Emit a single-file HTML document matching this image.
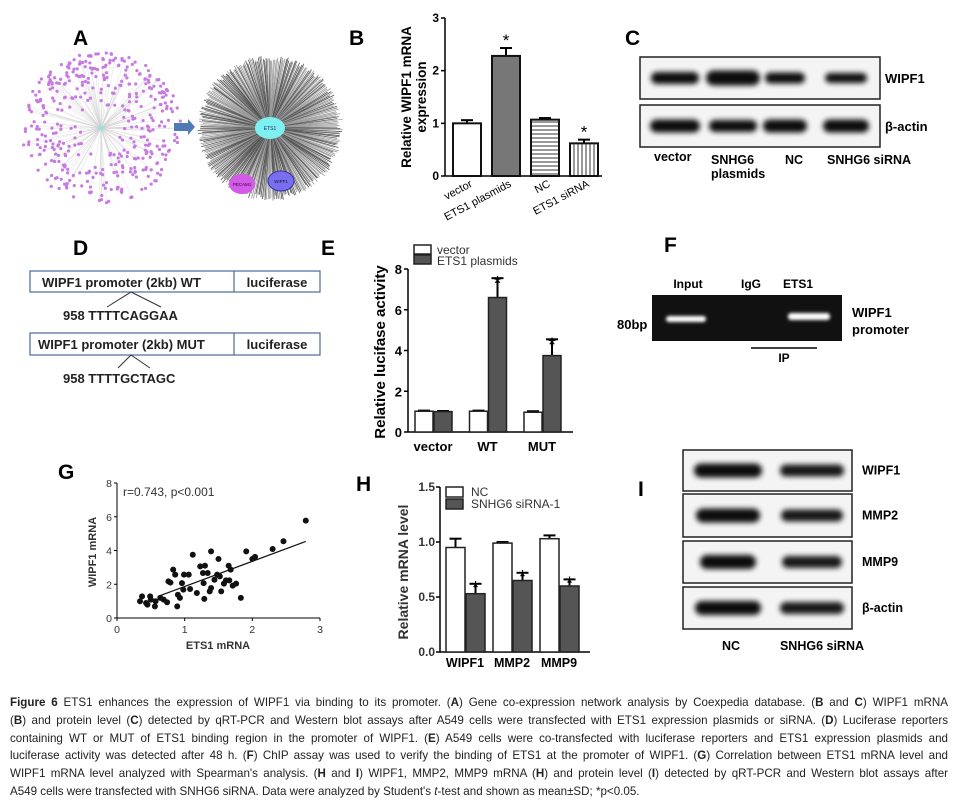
<!DOCTYPE html>
<html><head><meta charset="utf-8"><title>Figure 6</title>
<style>
html,body{margin:0;padding:0;background:#fff;}
body{width:959px;height:809px;position:relative;overflow:hidden;font-family:"Liberation Sans",sans-serif;}
svg{position:absolute;left:0;top:0;}
text{font-family:"Liberation Sans",sans-serif;}
.cap{position:absolute;left:10px;top:694px;width:938px;font-size:11.6px;line-height:17.8px;color:#222;}
.cap span{display:block;text-align:justify;text-align-last:justify;white-space:nowrap;}
.cap span.last{text-align-last:left;}
</style></head>
<body>
<svg id="fig" width="959" height="809" viewBox="0 0 959 809">
<defs>
<filter id="blur" x="-30%" y="-80%" width="160%" height="260%"><feGaussianBlur stdDeviation="2.6"/></filter>
<filter id="blur2" x="-20%" y="-80%" width="140%" height="260%"><feGaussianBlur stdDeviation="1.6"/></filter>
<pattern id="hstripe" width="4" height="4" patternUnits="userSpaceOnUse"><rect width="4" height="4" fill="#fff"/><line x1="0" y1="2" x2="4" y2="2" stroke="#333" stroke-width="1"/></pattern>
<pattern id="vstripe" width="4" height="4" patternUnits="userSpaceOnUse"><rect width="4" height="4" fill="#fff"/><line x1="2" y1="0" x2="2" y2="4" stroke="#333" stroke-width="1"/></pattern>
</defs>
<g font-weight="bold" font-size="21" fill="#000">
<text x="73" y="45">A</text>
<text x="349" y="45">B</text>
<text x="625" y="45">C</text>
<text x="73" y="255">D</text>
<text x="321" y="255">E</text>
<text x="664" y="252">F</text>
<text x="58" y="479">G</text>
<text x="356" y="491">H</text>
<text x="638" y="496">I</text>
</g>
<g id="panelA"></g>
<g id="panelB"></g>
<g id="panelC"></g>
<g id="panelD">
 <rect x="30" y="271" width="290" height="21" fill="#fff" stroke="#4a6a9a" stroke-width="1.2"/>
 <line x1="234" y1="271" x2="234" y2="292" stroke="#4a6a9a" stroke-width="1.2"/>
 <text x="42" y="287" font-size="13" font-weight="bold" fill="#222">WIPF1 promoter (2kb) WT</text>
 <text x="277" y="287" font-size="13" font-weight="bold" fill="#222" text-anchor="middle">luciferase</text>
 <line x1="131" y1="292" x2="107" y2="307" stroke="#333"/><line x1="131" y1="292" x2="161" y2="307" stroke="#333"/>
 <text x="63" y="320" font-size="13" font-weight="bold" fill="#222">958  TTTTCAGGAA</text>
 <rect x="30" y="333" width="290" height="22" fill="#fff" stroke="#4a6a9a" stroke-width="1.2"/>
 <line x1="234" y1="333" x2="234" y2="355" stroke="#4a6a9a" stroke-width="1.2"/>
 <text x="38" y="349" font-size="13" font-weight="bold" fill="#222">WIPF1 promoter (2kb) MUT</text>
 <text x="277" y="349" font-size="13" font-weight="bold" fill="#222" text-anchor="middle">luciferase</text>
 <line x1="131" y1="355" x2="118" y2="368" stroke="#333"/><line x1="131" y1="355" x2="150" y2="368" stroke="#333"/>
 <text x="63" y="383" font-size="13" font-weight="bold" fill="#222">958  TTTTGCTAGC</text>
</g>
<g id="panelE"></g>
<g id="panelF">
 <text x="688" y="288" font-size="12" font-weight="bold" text-anchor="middle">Input</text>
 <text x="751" y="288" font-size="12" font-weight="bold" text-anchor="middle">IgG</text>
 <text x="798" y="288" font-size="12" font-weight="bold" text-anchor="middle">ETS1</text>
 <rect x="652" y="295" width="190" height="46" fill="#111"/>
 <rect x="666" y="316" width="40" height="6" rx="3" fill="#fff" filter="url(#blur2)"/>
 <rect x="788" y="313" width="42" height="7" rx="3" fill="#fff" filter="url(#blur2)"/>
 <text x="617" y="329" font-size="13" font-weight="bold">80bp</text>
 <text x="852" y="317" font-size="13" font-weight="bold">WIPF1</text>
 <text x="852" y="334" font-size="13" font-weight="bold">promoter</text>
 <line x1="751" y1="348" x2="817" y2="348" stroke="#000" stroke-width="1.5"/>
 <text x="784" y="362" font-size="12" font-weight="bold" text-anchor="middle">IP</text>
</g>
<g id="panelG"></g>
<g id="panelH"></g>
<g id="panelI"></g>
</svg>
<div class="cap">
<span><b>Figure 6</b> ETS1 enhances the expression of WIPF1 via binding to its promoter. (<b>A</b>) Gene co-expression network analysis by Coexpedia database. (<b>B</b> and <b>C</b>) WIPF1 mRNA</span>
<span>(<b>B</b>) and protein level (<b>C</b>) detected by qRT-PCR and Western blot assays after A549 cells were transfected with ETS1 expression plasmids or siRNA. (<b>D</b>) Luciferase reporters</span>
<span>containing WT or MUT of ETS1 binding region in the promoter of WIPF1. (<b>E</b>) A549 cells were co-transfected with luciferase reporters and ETS1 expression plasmids and</span>
<span>luciferase activity was detected after 48 h. (<b>F</b>) ChIP assay was used to verify the binding of ETS1 at the promoter of WIPF1. (<b>G</b>) Correlation between ETS1 mRNA level and</span>
<span>WIPF1 mRNA level analyzed with Spearman's analysis. (<b>H</b> and <b>I</b>) WIPF1, MMP2, MMP9 mRNA (<b>H</b>) and protein level (<b>I</b>) detected by qRT-PCR and Western blot assays after</span>
<span class="last">A549 cells were transfected with SNHG6 siRNA. Data were analyzed by Student's <i>t</i>-test and shown as mean±SD; *p&lt;0.05.</span>
</div>
<script>
// ---------- Panel B data ----------
const bCategories = ["vector","ETS1 plasmids","NC","ETS1 siRNA"];
const bValues = [1.0, 2.28, 1.07, 0.62];
const bErrors = [0.06, 0.15, 0.03, 0.07];
const bSignif = [false, true, false, true];
const bTicks = [0,1,2,3];
// ---------- Panel E data ----------
const eCategories = ["vector","WT","MUT"];
const eVector = [1.02, 1.02, 0.97];
const eVectorErr = [0.03, 0.03, 0.05];
const ePlasmid = [1.0, 6.6, 3.75];
const ePlasmidErr = [0.03, 0.95, 0.8];
const eTicks = [0,2,4,6,8];
// ---------- Panel G data ----------
const gX = [0.34,0.37,0.43,0.45,0.49,0.50,0.56,0.57,0.64,0.69,0.74,0.76,0.79,0.83,0.86,0.89,0.90,0.93,0.96,0.98,0.99,1.06,1.08,1.12,1.18,1.23,1.27,1.28,1.29,1.30,1.34,1.37,1.39,1.39,1.44,1.48,1.50,1.52,1.54,1.58,1.61,1.65,1.66,1.68,1.71,1.76,1.83,1.91,2.00,2.04,2.30,2.46,2.79];
const gY = [0.99,1.28,0.89,0.79,1.28,1.09,0.69,0.99,1.19,1.09,0.93,2.17,2.10,2.87,2.57,0.69,1.38,1.19,2.07,1.68,2.57,2.57,1.72,3.75,1.48,3.06,2.67,2.07,1.13,3.10,2.67,1.58,3.95,1.78,2.27,2.57,3.50,2.47,1.58,2.04,2.23,3.10,2.23,2.87,1.92,2.04,1.19,3.95,3.50,3.62,4.09,4.55,5.77];
const gFitSlope = 1.49;
const gFitIntercept = 0.38;
const gFitRange = [0.6, 2.79];
const gXTicks = [0,1,2,3];
const gYTicks = [0,2,4,6,8];
// ---------- Panel H data ----------
const hCategories = ["WIPF1","MMP2","MMP9"];
const hNC = [0.95, 0.99, 1.03];
const hNCErr = [0.08, 0.01, 0.03];
const hSi = [0.53, 0.65, 0.60];
const hSiErr = [0.09, 0.07, 0.06];
const hTicks = ["0.0","0.5","1.0","1.5"];

const NS = "http://www.w3.org/2000/svg";
function mk(parent, tag, attrs, txt){
  const e = document.createElementNS(NS, tag);
  for (const k in attrs) e.setAttribute(k, attrs[k]);
  if (txt !== undefined) e.textContent = txt;
  parent.appendChild(e);
  return e;
}
function lin(d0,d1,r0,r1){ return v => r0 + (v-d0)/(d1-d0)*(r1-r0); }

// ---------- Panel A: network (decorative) ----------
(function(){
  const g = document.getElementById('panelA');
  let s = 7;
  function rnd(){ s = (s*16807) % 2147483647; return (s-1)/2147483646; }
  const cx=101, cy=128;
  const lines = mk(g,'g',{stroke:'#aaa','stroke-width':0.3,opacity:0.6});
  
  
  const dots = mk(g,'g',{fill:'#c77be0'});
  
  
  for (let i=0;i<420;i++){
    const a = rnd()*Math.PI*2, r = 18 + Math.sqrt(rnd())*58;
    const x = cx + Math.cos(a)*r*1.05, y = cy + Math.sin(a)*r;
    if (i%3===0) mk(lines,'line',{x1:cx,y1:cy,x2:x,y2:y});
    mk(dots,'circle',{cx:x,cy:y,r:1.6});
  }
  mk(g,'circle',{cx:cx,cy:cy,r:2,fill:'#7ee'});
  const ar = mk(g,'path',{d:'M174 123 L188 123 L188 119 L195 127 L188 135 L188 131 L174 131 Z',fill:'#4f7bb5'});
  
  
  const c2x=270, c2y=128, R=73;
  const star = mk(g,'g',{'stroke-width':0.8});
  
  
  for (let i=0;i<300;i++){
    const a = i/300*Math.PI*2 + rnd()*0.01;
    const rr = R*(0.92+rnd()*0.08);
    mk(star,'line',{x1:c2x,y1:c2y,x2:c2x+Math.cos(a)*rr,y2:c2y+Math.sin(a)*rr, stroke: rnd()<0.5?'#555':'#999'});
  }
  mk(g,'ellipse',{cx:c2x,cy:c2y,rx:15,ry:11,fill:'#7ef0f0'});
  mk(g,'text',{x:c2x,y:c2y+2,'font-size':5,'text-anchor':'middle',fill:'#226'},'ETS1');
  mk(g,'ellipse',{cx:242,cy:184,rx:13,ry:10,fill:'#d45be8'});
  mk(g,'text',{x:242,y:186,'font-size':4.5,'text-anchor':'middle',fill:'#303'},'PECAM1');
  mk(g,'ellipse',{cx:281,cy:181,rx:13,ry:10,fill:'#7a6ef0',stroke:'#3b33a0'});
  mk(g,'text',{x:281,y:183,'font-size':4.5,'text-anchor':'middle',fill:'#113'},'WIPF1');
})();

// ---------- Panel B ----------
(function(){
  const g = document.getElementById('panelB');
  const y = lin(0,3,176,18);
  const x0 = 445, step = 39, bw = 28;
  const fills = ['#fff','#777','url(#hstripe)','url(#vstripe)'];
  mk(g,'line',{x1:x0,y1:y(3),x2:x0,y2:y(0),stroke:'#000','stroke-width':1.5});
  mk(g,'line',{x1:x0,y1:y(0),x2:602,y2:y(0),stroke:'#000','stroke-width':1.5});
  bTicks.forEach(t=>{
    mk(g,'line',{x1:x0-4,y1:y(t),x2:x0,y2:y(t),stroke:'#000','stroke-width':1.5});
    const tl = mk(g,'text',{x:x0-6,y:y(t)+4,'font-size':12,'font-weight':'bold','text-anchor':'end'},String(t));
    
    
  });
  bCategories.forEach((c,i)=>{
    const bx = x0 + 8 + i*step;
    const v = bValues[i], e = bErrors[i];
    mk(g,'line',{x1:bx+bw/2,y1:y(v),x2:bx+bw/2,y2:y(v+e),stroke:'#000','stroke-width':2});
    mk(g,'line',{x1:bx+bw/2-6,y1:y(v+e),x2:bx+bw/2+6,y2:y(v+e),stroke:'#000','stroke-width':2});
    const r = mk(g,'rect',{x:bx,y:y(v),width:bw,height:y(0)-y(v),fill:fills[i],stroke:'#111','stroke-width':2});
    
    
    if (bSignif[i]) mk(g,'text',{x:bx+bw/2,y:y(v+e)-2,'font-size':17,'text-anchor':'middle'},'*');
    const lb = mk(g,'text',{x:bx+bw/2+6,y:y(0)+10,'font-size':11,'text-anchor':'end',transform:`rotate(-28 ${bx+bw/2+6} ${y(0)+10})`},c);
    
    
  });
  const yl = mk(g,'text',{transform:'translate(411 97) rotate(-90)','font-size':13.5,'font-weight':'bold','text-anchor':'middle'},'Relative WIPF1 mRNA');
  
  
  mk(g,'text',{transform:'translate(426 97) rotate(-90)','font-size':13.5,'font-weight':'bold','text-anchor':'middle'},'expression');
})();

// ---------- Blots ----------
function band(g,x,y,w,h,op){
  mk(g,'rect',{x:x,y:y,width:w,height:h,rx:h/2,fill:'#000',opacity:op,filter:'url(#blur)'});
}
(function(){
  const g = document.getElementById('panelC');
  const rows = [{y:57,label:'WIPF1',w:[48,54,40,42],h:[12,15,11,10]},{y:105,label:'β-actin',w:[50,48,44,46],h:[13,12,13,13]}];
  const lanes = [675,733,785,846];
  rows.forEach(r=>{
    const b = mk(g,'rect',{x:640,y:r.y,width:240,height:42,fill:'#f4f4f4',stroke:'#222','stroke-width':1.5});
    
    
    lanes.forEach((lx,i)=>band(g,lx-r.w[i]/2,r.y+21-r.h[i]/2,r.w[i],r.h[i],0.95));
    mk(g,'text',{x:885,y:r.y+26,'font-size':13,'font-weight':'bold'},r.label);
  });
  mk(g,'text',{x:654,y:161,'font-size':12.5,'font-weight':'bold'},'vector');
  mk(g,'text',{x:711,y:164,'font-size':12.5,'font-weight':'bold'},'SNHG6');
  mk(g,'text',{x:711,y:178,'font-size':12.5,'font-weight':'bold'},'plasmids');
  mk(g,'text',{x:785,y:164,'font-size':12.5,'font-weight':'bold'},'NC');
  mk(g,'text',{x:827,y:164,'font-size':12.5,'font-weight':'bold'},'SNHG6 siRNA');
})();
(function(){
  const g = document.getElementById('panelI');
  const rows = [{y:450,h:41,l:'WIPF1',w:[68,64]},{y:494,h:43,l:'MMP2',w:[64,62]},{y:541,h:42,l:'MMP9',w:[56,60]},{y:587,h:42,l:'β-actin',w:[66,64]}];
  rows.forEach(r=>{
    const b = mk(g,'rect',{x:683,y:r.y,width:169,height:r.h,fill:'#f4f4f4',stroke:'#222','stroke-width':1.5});
    
    
    band(g,728-r.w[0]/2,r.y+r.h/2-7,r.w[0],14,0.95);
    band(g,812-r.w[1]/2,r.y+r.h/2-6,r.w[1],12,0.9);
    mk(g,'text',{x:862,y:r.y+r.h/2+4,'font-size':12.5,'font-weight':'bold'},r.l);
  });
  mk(g,'text',{x:731,y:650,'font-size':12.5,'font-weight':'bold','text-anchor':'middle'},'NC');
  mk(g,'text',{x:822,y:650,'font-size':12.5,'font-weight':'bold','text-anchor':'middle'},'SNHG6 siRNA');
})();

// ---------- Panel E ----------
(function(){
  const g = document.getElementById('panelE');
  const y = lin(0,8,432,269);
  const x0=408;
  mk(g,'line',{x1:x0,y1:y(8),x2:x0,y2:y(0),stroke:'#000','stroke-width':1.5});
  mk(g,'line',{x1:x0,y1:y(0),x2:573,y2:y(0),stroke:'#000','stroke-width':1.5});
  eTicks.forEach(t=>{
    mk(g,'line',{x1:x0-4,y1:y(t),x2:x0,y2:y(t),stroke:'#000','stroke-width':1.5});
    mk(g,'text',{x:x0-6,y:y(t)+5,'font-size':13,'font-weight':'bold','text-anchor':'end'},String(t));
  });
  const bw=18;
  eCategories.forEach((c,i)=>{
    const gx = 415 + i*54.5;
    [[eVector,eVectorErr,'#fff'],[ePlasmid,ePlasmidErr,'#555']].forEach((s,j)=>{
      const bx = gx + j*(bw+1), v=s[0][i], e=s[1][i];
      mk(g,'line',{x1:bx+bw/2,y1:y(v),x2:bx+bw/2,y2:y(v+e),stroke:'#000','stroke-width':2});
      mk(g,'line',{x1:bx+bw/2-6,y1:y(v+e),x2:bx+bw/2+6,y2:y(v+e),stroke:'#000','stroke-width':2});
      const r = mk(g,'rect',{x:bx,y:y(v),width:bw,height:y(0)-y(v),fill:s[2],stroke:'#222','stroke-width':1.5});
      
      
      if (j===1 && v>2) mk(g,'text',{x:bx+bw/2,y:y(v+e)+12,'font-size':20,'text-anchor':'middle'},'*');
    });
    mk(g,'text',{x:gx+bw,y:451,'font-size':13,'font-weight':'bold','text-anchor':'middle'},c);
  });
  mk(g,'rect',{x:414,y:245,width:17,height:9,fill:'#fff',stroke:'#222','stroke-width':1.5});
  mk(g,'rect',{x:414,y:255,width:17,height:9,fill:'#555',stroke:'#222','stroke-width':1.5});
  const l1 = mk(g,'text',{x:437,y:254,'font-size':12,fill:'#333'},'vector');
  
  
  const l2 = mk(g,'text',{x:437,y:265,'font-size':12,fill:'#333'},'ETS1 plasmids');
  
  
  mk(g,'text',{transform:'translate(385 352) rotate(-90)','font-size':15,'font-weight':'bold','text-anchor':'middle'},'Relative lucifase activity');
})();

// ---------- Panel G ----------
(function(){
  const g = document.getElementById('panelG');
  const x = lin(0,3,117,320), y = lin(0,8,618,483);
  mk(g,'line',{x1:x(0),y1:y(8),x2:x(0),y2:y(0),stroke:'#000','stroke-width':1});
  mk(g,'line',{x1:x(0),y1:y(0),x2:x(3),y2:y(0),stroke:'#000','stroke-width':1});
  gYTicks.forEach(t=>{
    mk(g,'line',{x1:x(0)-3,y1:y(t),x2:x(0),y2:y(t),stroke:'#000'});
    mk(g,'text',{x:x(0)-5,y:y(t)+4,'font-size':10.5,'text-anchor':'end',fill:'#333'},String(t));
  });
  gXTicks.forEach(t=>{
    mk(g,'line',{x1:x(t),y1:y(0),x2:x(t),y2:y(0)+3,stroke:'#000'});
    mk(g,'text',{x:x(t),y:y(0)+15,'font-size':10.5,'text-anchor':'middle',fill:'#333'},String(t));
  });
  gX.forEach((v,i)=>{
    const p = mk(g,'circle',{cx:x(v),cy:y(gY[i]),r:3,fill:'#111'});
    
    
  });
  const fl = mk(g,'line',{x1:x(gFitRange[0]),y1:y(gFitIntercept+gFitSlope*gFitRange[0]),x2:x(gFitRange[1]),y2:y(gFitIntercept+gFitSlope*gFitRange[1]),stroke:'#111','stroke-width':1.2});
  
  
  mk(g,'text',{x:123,y:496,'font-size':12,fill:'#333'},'r=0.743, p<0.001');
  mk(g,'text',{x:218,y:649,'font-size':11,'font-weight':'bold','text-anchor':'middle',fill:'#333'},'ETS1 mRNA');
  mk(g,'text',{transform:'translate(96 552) rotate(-90)','font-size':11,'font-weight':'bold','text-anchor':'middle',fill:'#333'},'WIPF1 mRNA');
})();

// ---------- Panel H ----------
(function(){
  const g = document.getElementById('panelH');
  const y = lin(0,1.5,652,487);
  const x0=440;
  mk(g,'line',{x1:x0,y1:y(1.5),x2:x0,y2:y(0),stroke:'#000','stroke-width':1.5});
  mk(g,'line',{x1:x0,y1:y(0),x2:590,y2:y(0),stroke:'#000','stroke-width':1.5});
  hTicks.forEach(t=>{
    const v=parseFloat(t);
    mk(g,'line',{x1:x0-4,y1:y(v),x2:x0,y2:y(v),stroke:'#000','stroke-width':1.5});
    mk(g,'text',{x:x0-5,y:y(v)+4,'font-size':12,'font-weight':'bold','text-anchor':'end',fill:'#333'},t);
  });
  const bw=19;
  hCategories.forEach((c,i)=>{
    const gx = 446 + i*47;
    [[hNC,hNCErr,'#fff'],[hSi,hSiErr,'#555']].forEach((s,j)=>{
      const bx = gx + j*(bw+1), v=s[0][i], e=s[1][i];
      mk(g,'line',{x1:bx+bw/2,y1:y(v),x2:bx+bw/2,y2:y(v+e),stroke:'#000','stroke-width':2});
      mk(g,'line',{x1:bx+bw/2-6,y1:y(v+e),x2:bx+bw/2+6,y2:y(v+e),stroke:'#000','stroke-width':2});
      const r = mk(g,'rect',{x:bx,y:y(v),width:bw,height:y(0)-y(v),fill:s[2],stroke:'#222','stroke-width':1.5});
      
      
      if (j===1) mk(g,'text',{x:bx+bw/2,y:y(v+e)+10,'font-size':18,'text-anchor':'middle'},'*');
    });
    mk(g,'text',{x:gx+bw,y:667,'font-size':12.5,'font-weight':'bold','text-anchor':'middle'},c);
  });
  mk(g,'rect',{x:446,y:487,width:17,height:10,fill:'#fff',stroke:'#222','stroke-width':1.5});
  mk(g,'rect',{x:446,y:499,width:17,height:10,fill:'#555',stroke:'#222','stroke-width':1.5});
  const l1 = mk(g,'text',{x:471,y:496,'font-size':12,fill:'#333'},'NC');
  
  
  const l2 = mk(g,'text',{x:471,y:508,'font-size':12,fill:'#333'},'SNHG6 siRNA-1');
  
  
  mk(g,'text',{transform:'translate(408 572) rotate(-90)','font-size':14,'font-weight':'bold','text-anchor':'middle',fill:'#333'},'Relative mRNA level');
})();
</script>
</body></html>
